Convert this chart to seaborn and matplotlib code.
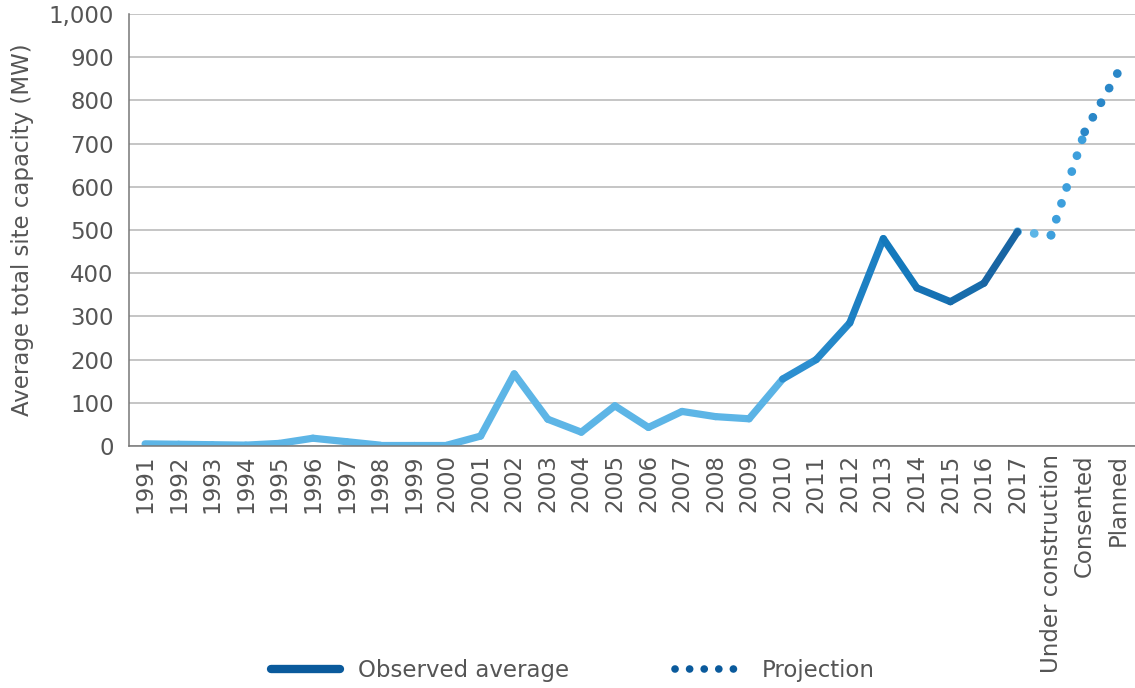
import numpy as np
import pandas as pd
import matplotlib
matplotlib.use("Agg")
import matplotlib.pyplot as plt
import seaborn as sns
from matplotlib.colors import LinearSegmentedColormap, to_hex
from matplotlib.lines import Line2D

# ---- data ----
years = [str(y) for y in range(1991, 2018)]
observed = [5, 4, 3, 2, 6, 18, 10, 2, 2, 2, 23, 167, 62, 32, 93, 43, 80, 68, 63,
            155, 200, 285, 480, 366, 334, 377, 496]
proj_labels = ["Under construction", "Consented", "Planned"]
projection = [488, 727, 866]

categories = years + proj_labels
ylabel = "Average total site capacity (MW)"
legend_labels = ["Observed average", "Projection"]

# ---- style ----
sns.set_theme(style="white")
plt.rcParams['font.family'] = ['DejaVu Sans']
txt = "#555555"
fs = 16.5

fig = plt.figure(figsize=(11.35, 6.88), dpi=100)
ax = fig.add_axes([129/1135, 1-446/688, 1-129/1135, (446-14)/688])

x_obs = np.arange(len(years))
light = "#5DB5E6"
cmap = LinearSegmentedColormap.from_list("obs", [(0, light), (18/26, light), (19/26, "#2e8fd0"),
                                                 (22/26, "#1479bc"), (1, "#1a5f9c")])

# observed line, segment by segment coloured along a gradient
rows = []
for i in range(len(years) - 1):
    for j in (i, i + 1):
        rows.append({"x": x_obs[j], "y": observed[j], "seg": i})
df = pd.DataFrame(rows)
pal = [to_hex(cmap(i / (len(years) - 1))) for i in range(len(years) - 1)]
sns.lineplot(data=df, x="x", y="y", hue="seg", palette=pal, lw=5.2,
             legend=False, sort=False, ax=ax, solid_capstyle="round",
             estimator=None, units="seg")

# projection dotted line
px = [len(years) - 1] + list(range(len(years), len(categories)))
py = [observed[-1]] + projection
pcols = ["#5DB5E6", "#3d9fdc", "#2a87c8"]
for k in range(len(px) - 1):
    pdf = pd.DataFrame({"x": px[k:k+2], "y": py[k:k+2]})
    sns.lineplot(data=pdf, x="x", y="y", color=pcols[k], lw=6.3,
                 linestyle=(0, (0.01, 1.9)), dash_capstyle="round",
                 sort=False, ax=ax, legend=False, zorder=1)

# axes
ax.set_xlim(-0.48, len(categories) - 0.58)
ax.set_ylim(0, 1000)
ax.set_yticks(range(0, 1001, 100))
ax.set_yticklabels([f"{v:,}" for v in range(0, 1001, 100)], color=txt, fontsize=fs)
ax.set_xticks(range(len(categories)))
ax.set_xticklabels(categories, rotation=90, color=txt, fontsize=fs, va="top")
ax.set_xticks(np.arange(len(categories)) + 0.5, minor=True)
ax.tick_params(axis="x", which="major", length=0, pad=6)
ax.tick_params(axis="x", which="minor", length=6, direction="in", color="#666666", width=1)
ax.tick_params(axis="y", length=0, pad=11)
ax.set_xlabel("")
ax.set_ylabel(ylabel, color=txt, fontsize=fs, labelpad=10)
ax.grid(axis="y", color="#b5b5b5", lw=1.1)
ax.grid(axis="x", visible=False)
ax.set_axisbelow(True)
for s in ["top", "right"]:
    ax.spines[s].set_visible(False)
for s in ["left", "bottom"]:
    ax.spines[s].set_color("#777777")
    ax.spines[s].set_linewidth(1.1)

handles = [Line2D([0], [0], color="#0a5a9c", lw=6, solid_capstyle="round"),
           Line2D([0], [0], color="#0a5a9c", lw=5.5, linestyle=(0, (0.01, 1.9)),
                  dash_capstyle="round")]
fig.legend(handles, legend_labels, loc="center", bbox_to_anchor=(573/1135, 1-671/688),
           ncol=2, frameon=False, fontsize=fs, handlelength=3.0, columnspacing=4.6,
           handletextpad=0.8, labelcolor=txt)

fig.savefig("out.png", dpi=100)
